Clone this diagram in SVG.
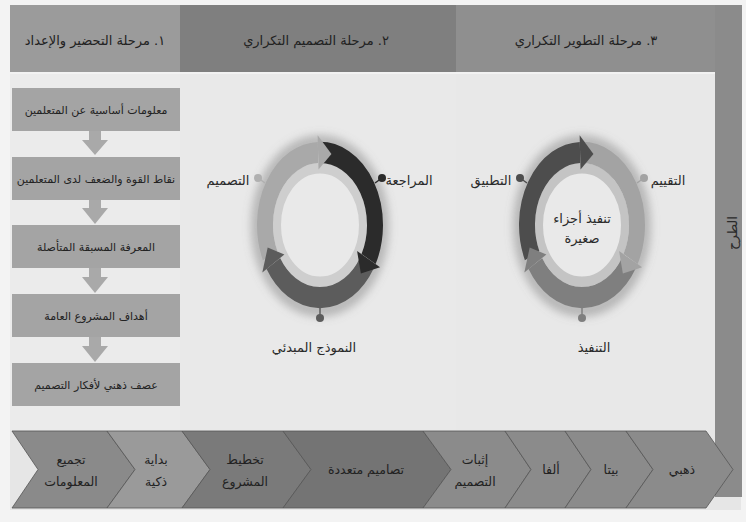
<svg xmlns="http://www.w3.org/2000/svg" width="746" height="522" viewBox="0 0 746 522">
<style>
text{font-family:"DejaVu Sans",sans-serif;fill:#222;text-anchor:middle}
.hd{font-size:13px}
.bx{font-size:11px}
.lb{font-size:13px;fill:#2a2a2a}
.cv{font-size:12.5px}
.box{fill:#a4a4a4}
.arr{fill:#a9a9a9}
.chev{stroke:#555;stroke-width:0.8}
.seg{fill:none;stroke-width:16;stroke-linecap:butt}
.lead{stroke-width:1.5}
</style>
<defs>
<filter id="sh" x="-30%" y="-30%" width="160%" height="160%"><feGaussianBlur stdDeviation="4"/></filter>
</defs>
<rect width="746" height="522" fill="#f3f3f3"/>
<rect x="10" y="5" width="731" height="505" fill="#e6e6e6"/>
<rect x="10" y="72" width="170" height="358" fill="#ebebeb"/>
<rect x="180" y="72" width="276" height="358" fill="#e9e9e9"/>
<rect x="456" y="72" width="259" height="358" fill="#e8e8e8"/>
<rect x="10" y="72" width="705" height="2" fill="#f2f2f2"/>

<g id="header1"><rect x="10" y="5" width="170" height="67" fill="#9b9b9b"/><text class="hd" x="95" y="45">١. مرحلة التحضير والإعداد</text></g>
<g id="header2"><rect x="180" y="5" width="276" height="67" fill="#7f7f7f"/><text class="hd" x="316" y="45">٢. مرحلة التصميم التكراري</text></g>
<g id="header3"><rect x="456" y="5" width="259" height="67" fill="#8f8f8f"/><text class="hd" x="586" y="45">٣. مرحلة التطوير التكراري</text></g>
<g id="sidebar"><rect x="715" y="5" width="27" height="492" fill="#8b8b8b"/><text class="lb" transform="translate(737,233) rotate(-90)">الطرح</text></g>

<g id="box1"><rect class="box" x="12" y="88" width="168" height="43"/><text class="bx" x="96" y="114">معلومات أساسية عن المتعلمين</text></g>
<g id="box2"><rect class="box" x="12" y="157" width="168" height="43"/><text class="bx" x="96" y="183">نقاط القوة والضعف لدى المتعلمين</text></g>
<g id="box3"><rect class="box" x="12" y="225" width="168" height="43"/><text class="bx" x="96" y="251">المعرفة المسبقة المتأصلة</text></g>
<g id="box4"><rect class="box" x="12" y="294" width="168" height="43"/><text class="bx" x="96" y="320">أهداف المشروع العامة</text></g>
<g id="box5"><rect class="box" x="12" y="363" width="168" height="43"/><text class="bx" x="96" y="389">عصف ذهني لأفكار التصميم</text></g>

<g id="connectors">
<path class="arr" d="M89 131H101V140H108L95 155L82 140H89Z"/>
<path class="arr" d="M89 200H101V208H108L95 224L82 208H89Z"/>
<path class="arr" d="M89 268H101V277H108L95 293L82 277H89Z"/>
<path class="arr" d="M89 337H101V346H108L95 362L82 346H89Z"/>
</g>

<g id="cycle1">
<ellipse cx="320" cy="226" rx="62" ry="84" fill="none" stroke="#7a7a7a" stroke-opacity="0.45" stroke-width="14" filter="url(#sh)"/>
<g transform="translate(320,225) scale(1,1.32)">
<circle r="43" fill="#e9e9e9" stroke="#cecece" stroke-width="8"/>
<path class="seg" stroke="#a9a9a9" d="M-49.85 23.24A55 55 0 0 1 -1.92 -54.97"/>
<path class="seg" stroke="#2b2b2b" d="M0 -55A55 55 0 0 1 48.56 25.82"/>
<path class="seg" stroke="#5c5c5c" d="M46.64 29.15A55 55 0 0 1 -46.64 29.15"/>
<polygon fill="#a9a9a9" points="-1.47,-41.97 -2.37,-67.96 11.44,-53.8"/>
<polygon fill="#2b2b2b" points="37.08,19.72 60.04,31.92 40.87,36.8"/>
<polygon fill="#5c5c5c" points="-35.62,22.26 -57.67,36.03 -52.31,17"/>
</g>
</g>
<g id="c1-design"><line class="lead" x1="265" y1="183" x2="258" y2="178" stroke="#b0b0b0"/><circle cx="258" cy="178" r="4" fill="#b0b0b0"/><text class="lb" x="228" y="185">التصميم</text></g>
<g id="c1-review"><line class="lead" x1="375" y1="183" x2="382" y2="178" stroke="#2b2b2b"/><circle cx="382" cy="178" r="4" fill="#2b2b2b"/><text class="lb" x="409" y="185">المراجعة</text></g>
<g id="c1-proto"><line class="lead" x1="320" y1="308" x2="320" y2="318" stroke="#5c5c5c"/><circle cx="320" cy="318" r="4" fill="#5c5c5c"/><text class="lb" x="314" y="352">النموذج المبدئي</text></g>

<g id="cycle2">
<ellipse cx="582" cy="226" rx="62" ry="84" fill="none" stroke="#7a7a7a" stroke-opacity="0.45" stroke-width="14" filter="url(#sh)"/>
<g transform="translate(582,225) scale(1,1.32)">
<circle r="43" fill="#e9e9e9" stroke="#c4c4c4" stroke-width="8"/>
<path class="seg" stroke="#4d4d4d" d="M-49.85 23.24A55 55 0 0 1 -1.92 -54.97"/>
<path class="seg" stroke="#a3a3a3" d="M0 -55A55 55 0 0 1 48.56 25.82"/>
<path class="seg" stroke="#7f7f7f" d="M46.64 29.15A55 55 0 0 1 -46.64 29.15"/>
<polygon fill="#4d4d4d" points="-1.47,-41.97 -2.37,-67.96 11.44,-53.8"/>
<polygon fill="#a3a3a3" points="37.08,19.72 60.04,31.92 40.87,36.8"/>
<polygon fill="#7f7f7f" points="-35.62,22.26 -57.67,36.03 -52.31,17"/>
</g>
<text class="lb" x="582" y="223">تنفيذ أجزاء</text>
<text class="lb" x="582" y="243">صغيرة</text>
</g>
<g id="c2-apply"><line class="lead" x1="527" y1="183" x2="520" y2="178" stroke="#4d4d4d"/><circle cx="520" cy="178" r="4" fill="#4d4d4d"/><text class="lb" x="491" y="185">التطبيق</text></g>
<g id="c2-eval"><line class="lead" x1="637" y1="183" x2="644" y2="178" stroke="#a3a3a3"/><circle cx="644" cy="178" r="4" fill="#a3a3a3"/><text class="lb" x="668" y="185">التقييم</text></g>
<g id="c2-exec"><line class="lead" x1="582" y1="308" x2="582" y2="318" stroke="#7f7f7f"/><circle cx="582" cy="318" r="4" fill="#7f7f7f"/><text class="lb" x="594" y="352">التنفيذ</text></g>

<g id="chev1"><polygon class="chev" fill="#8a8a8a" points="12,431 107,431 135,469.5 107,508 12,508 38,469.5"/><text class="cv" x="71" y="464">تجميع</text><text class="cv" x="71" y="486">المعلومات</text></g>
<g id="chev2"><polygon class="chev" fill="#9a9a9a" points="107,431 182,431 210,469.5 182,508 107,508 135,469.5"/><text class="cv" x="156" y="464">بداية</text><text class="cv" x="156" y="486">ذكية</text></g>
<g id="chev3"><polygon class="chev" fill="#7a7a7a" points="182,431 283,431 311,469.5 283,508 182,508 210,469.5"/><text class="cv" x="245" y="464">تخطيط</text><text class="cv" x="245" y="486">المشروع</text></g>
<g id="chev4"><polygon class="chev" fill="#747474" points="283,431 423,431 451,469.5 423,508 283,508 311,469.5"/><text class="cv" x="366" y="474">تصاميم متعددة</text></g>
<g id="chev5"><polygon class="chev" fill="#8b8b8b" points="423,431 505,431 531,469.5 505,508 423,508 451,469.5"/><text class="cv" x="475" y="464">إثبات</text><text class="cv" x="475" y="486">التصميم</text></g>
<g id="chev6"><polygon class="chev" fill="#8b8b8b" points="505,431 565,431 591,469.5 565,508 505,508 531,469.5"/><text class="cv" x="551" y="474">ألفا</text></g>
<g id="chev7"><polygon class="chev" fill="#8b8b8b" points="565,431 626,431 653,469.5 626,508 565,508 591,469.5"/><text class="cv" x="611" y="474">بيتا</text></g>
<g id="chev8"><polygon class="chev" fill="#8b8b8b" points="626,431 706,431 733,469.5 706,508 626,508 653,469.5"/><text class="cv" x="682" y="474">ذهبي</text></g>
</svg>
